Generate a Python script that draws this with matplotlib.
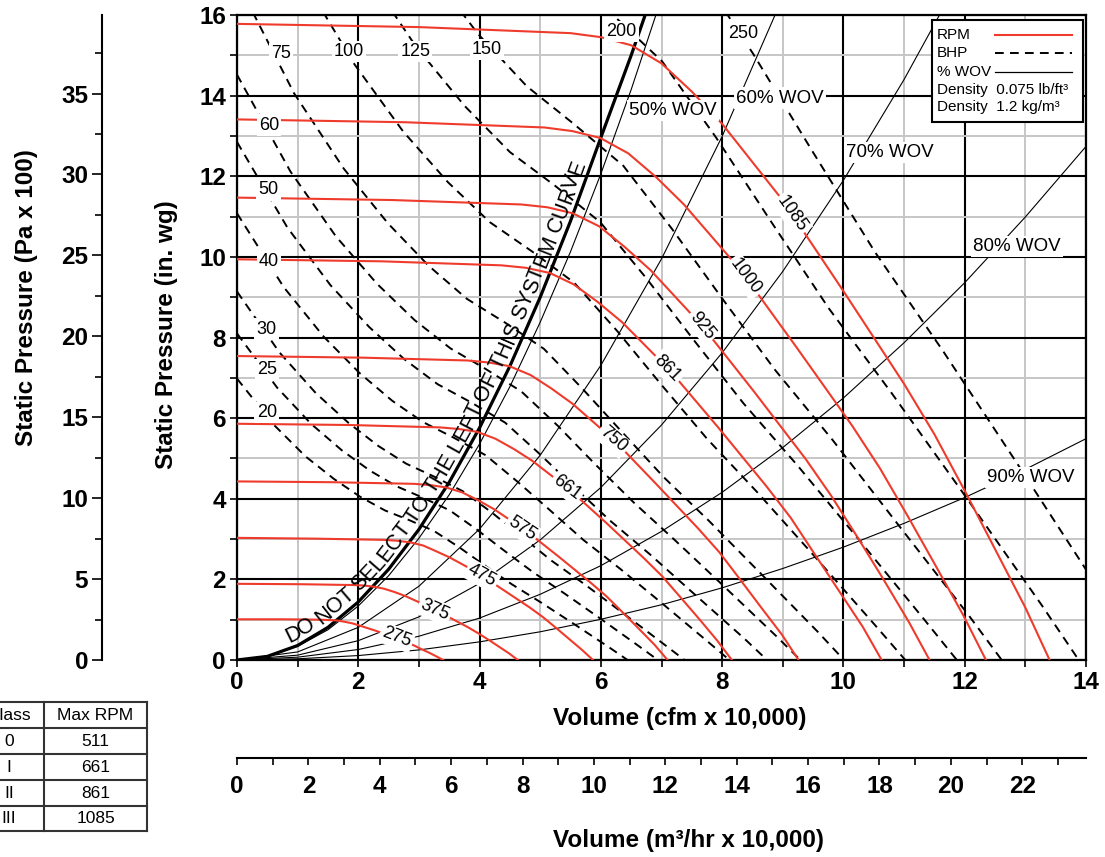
import numpy as np
import matplotlib
matplotlib.use("Agg")
import matplotlib.pyplot as plt
from matplotlib.lines import Line2D
from matplotlib.patches import Rectangle
from matplotlib.font_manager import FontProperties

plt.rcParams['font.family'] = ['Liberation Sans', 'DejaVu Sans']

# --- fan curves: volume (cfm x 10,000) vs static pressure (in. wg) ---
rpm_speeds = [275, 375, 475, 575, 661, 750, 861, 925, 1000, 1085]
q_275 = [0, 0.76, 1.39, 1.52, 1.65, 1.77, 1.90, 2.03, 2.28, 2.54, 2.79, 2.92, 3.04, 3.17, 3.30, 3.40]
p_275 = [1.01, 1.01, 1.00, 0.99, 0.98, 0.95, 0.91, 0.85, 0.73, 0.59, 0.44, 0.36, 0.27, 0.18, 0.08, 0]
q_375 = [0, 1.04, 1.90, 2.07, 2.25, 2.42, 2.59, 2.77, 3.11, 3.46, 3.80, 3.97, 4.15, 4.32, 4.49, 4.63]
p_375 = [1.89, 1.88, 1.86, 1.85, 1.82, 1.77, 1.69, 1.59, 1.36, 1.09, 0.82, 0.67, 0.50, 0.33, 0.16, 0]
q_475 = [0, 1.31, 2.41, 2.63, 2.85, 3.07, 3.28, 3.50, 3.94, 4.38, 4.82, 5.04, 5.25, 5.47, 5.69, 5.87]
p_475 = [3.03, 3.01, 2.98, 2.96, 2.92, 2.84, 2.70, 2.55, 2.19, 1.75, 1.31, 1.07, 0.81, 0.53, 0.25, 0]
q_575 = [0, 1.59, 2.92, 3.18, 3.45, 3.71, 3.98, 4.24, 4.77, 5.30, 5.83, 6.10, 6.36, 6.63, 6.89, 7.10]
p_575 = [4.43, 4.41, 4.37, 4.34, 4.28, 4.16, 3.96, 3.74, 3.20, 2.57, 1.92, 1.57, 1.18, 0.77, 0.37, 0]
q_661 = [0, 1.83, 3.35, 3.66, 3.96, 4.26, 4.57, 4.87, 5.48, 6.09, 6.70, 7.01, 7.31, 7.62, 7.92, 8.16]
p_661 = [5.86, 5.83, 5.77, 5.73, 5.66, 5.49, 5.23, 4.94, 4.23, 3.40, 2.54, 2.08, 1.56, 1.02, 0.48, 0]
q_750 = [0, 2.07, 3.80, 4.15, 4.49, 4.84, 5.18, 5.53, 6.22, 6.91, 7.60, 7.95, 8.29, 8.64, 8.99, 9.26]
p_750 = [7.54, 7.50, 7.43, 7.38, 7.29, 7.07, 6.74, 6.36, 5.45, 4.37, 3.27, 2.68, 2.01, 1.31, 0.62, 0]
q_861 = [0, 2.38, 4.36, 4.76, 5.16, 5.55, 5.95, 6.35, 7.14, 7.94, 8.73, 9.13, 9.52, 9.92, 10.32, 10.63]
p_861 = [9.94, 9.89, 9.79, 9.73, 9.60, 9.32, 8.88, 8.38, 7.18, 5.76, 4.31, 3.53, 2.64, 1.73, 0.82, 0]
q_925 = [0, 2.56, 4.69, 5.12, 5.54, 5.97, 6.39, 6.82, 7.67, 8.53, 9.38, 9.80, 10.23, 10.66, 11.08, 11.42]
p_925 = [11.47, 11.41, 11.30, 11.23, 11.08, 10.76, 10.25, 9.67, 8.29, 6.65, 4.98, 4.07, 3.05, 2.00, 0.94, 0]
q_1000 = [0, 2.77, 5.07, 5.53, 5.99, 6.45, 6.91, 7.37, 8.30, 9.22, 10.14, 10.60, 11.06, 11.52, 11.98, 12.35]
p_1000 = [13.41, 13.34, 13.21, 13.12, 12.95, 12.57, 11.98, 11.30, 9.68, 7.77, 5.82, 4.76, 3.57, 2.34, 1.10, 0]
q_1085 = [0, 3, 5.5, 6, 6.5, 7, 7.5, 8, 9, 10, 11, 11.5, 12, 12.5, 13, 13.4]
p_1085 = [15.78, 15.70, 15.55, 15.45, 15.25, 14.80, 14.10, 13.30, 11.40, 9.15, 6.85, 5.60, 4.20, 2.75, 1.30, 0]
rpm_label_x = [2.63, 3.26, 4.04, 4.70, 5.44, 6.20, 7.10, 7.67, 8.38, 9.15]
rpm_label_y = [0.56, 1.24, 2.09, 3.26, 4.28, 5.46, 7.24, 8.29, 9.51, 11.06]
rpm_label_rot = [-21, -24, -29, -34, -37, -41, -45, -51, -53, -55]

# --- BHP lines ---
bhp_values = [20, 25, 30, 40, 50, 60, 75, 100, 125, 150, 200, 250]
bhp_20_q = [0, 0.61, 1.13, 1.60, 2.03, 2.44, 2.84, 3.25, 3.67, 4.08, 4.53, 5.02, 5.55, 6.16, 6.44]
bhp_20_p = [6.98, 5.83, 5.05, 4.49, 4.05, 3.71, 3.47, 3.20, 2.79, 2.35, 1.88, 1.42, 0.90, 0.29, 0]
bhp_25_q = [0, 0.66, 1.22, 1.73, 2.19, 2.63, 3.06, 3.51, 3.95, 4.40, 4.88, 5.40, 5.98, 6.63, 6.94]
bhp_25_p = [8.10, 6.76, 5.86, 5.20, 4.70, 4.31, 4.03, 3.71, 3.24, 2.72, 2.18, 1.65, 1.04, 0.34, 0]
bhp_30_q = [0, 0.70, 1.30, 1.84, 2.33, 2.79, 3.25, 3.72, 4.20, 4.68, 5.19, 5.74, 6.35, 7.05, 7.38]
bhp_30_p = [9.14, 7.63, 6.62, 5.88, 5.31, 4.87, 4.55, 4.19, 3.66, 3.08, 2.46, 1.87, 1.18, 0.38, 0]
bhp_40_q = [0, 0.77, 1.43, 2.02, 2.56, 3.07, 3.58, 4.10, 4.62, 5.15, 5.71, 6.32, 6.99, 7.76, 8.12]
bhp_40_p = [11.08, 9.25, 8.02, 7.12, 6.43, 5.90, 5.51, 5.08, 4.43, 3.73, 2.98, 2.26, 1.43, 0.46, 0]
bhp_50_q = [0, 0.83, 1.54, 2.18, 2.76, 3.31, 3.86, 4.42, 4.97, 5.54, 6.15, 6.81, 7.53, 8.36, 8.74]
bhp_50_p = [12.85, 10.73, 9.30, 8.26, 7.46, 6.84, 6.39, 5.89, 5.14, 4.32, 3.46, 2.62, 1.65, 0.54, 0]
bhp_60_q = [0, 0.88, 1.63, 2.31, 2.93, 3.52, 4.10, 4.69, 5.29, 5.89, 6.54, 7.23, 8.00, 8.88, 9.29]
bhp_60_p = [14.52, 12.12, 10.51, 9.33, 8.43, 7.73, 7.22, 6.66, 5.81, 4.88, 3.91, 2.96, 1.87, 0.61, 0]
bhp_75_q = [0, 0.94, 1.76, 2.49, 3.16, 3.79, 4.42, 5.06, 5.69, 6.34, 7.04, 7.79, 8.62, 9.57, 10.01]
bhp_75_p = [16.84, 14.06, 12.19, 10.83, 9.78, 8.96, 8.37, 7.72, 6.74, 5.67, 4.53, 3.44, 2.17, 0.71, 0]
bhp_100_q = [0, 1.04, 1.94, 2.74, 3.48, 4.17, 4.86, 5.56, 6.27, 6.98, 7.75, 8.58, 9.49, 10.53, 11.02]
bhp_100_p = [20.40, 17.03, 14.77, 13.11, 11.85, 10.86, 10.14, 9.36, 8.16, 6.86, 5.49, 4.16, 2.63, 0.85, 0]
bhp_125_q = [1.12, 2.09, 2.95, 3.75, 4.50, 5.24, 5.99, 6.75, 7.52, 8.35, 9.24, 10.22, 11.34, 11.87]
bhp_125_p = [19.76, 17.14, 15.22, 13.75, 12.60, 11.77, 10.86, 9.47, 7.96, 6.37, 4.83, 3.05, 0.99, 0]
bhp_150_q = [2.22, 3.14, 3.98, 4.78, 5.56, 6.37, 7.17, 7.99, 8.87, 9.82, 10.86, 12.06, 12.61]
bhp_150_p = [19.35, 17.18, 15.52, 14.23, 13.29, 12.26, 10.70, 8.99, 7.20, 5.46, 3.44, 1.12, 0]
bhp_200_q = [4.38, 5.26, 6.13, 7.01, 7.90, 8.80, 9.76, 10.80, 11.96, 13.27, 13.88]
bhp_200_p = [18.80, 17.24, 16.10, 14.85, 12.96, 10.89, 8.72, 6.61, 4.17, 1.36, 0]
bhp_250_q = [5.66, 6.60, 7.55, 8.51, 9.48, 10.52, 11.64, 12.88, 14.29]
bhp_250_p = [20.00, 18.68, 17.24, 15.04, 12.64, 10.12, 7.67, 4.84, 1.57]
bhp_label_x = [0.49, 0.50, 0.49, 0.53, 0.52, 0.53, 0.72, 1.85, 2.94, 4.12, 6.34, 8.35]
bhp_label_y = [6.14, 7.20, 8.21, 9.88, 11.66, 13.27, 15.05, 15.09, 15.09, 15.15, 15.59, 15.53]

# --- % wide open volume lines and system curve ---
system_q = [0, 0.5, 1, 1.5, 2, 2.5, 3, 3.5, 4, 4.5, 5, 5.5, 6, 6.5, 6.8]
system_p = [0, 0.09, 0.36, 0.81, 1.44, 2.25, 3.24, 4.41, 5.76, 7.29, 9.00, 10.89, 12.96, 15.00, 16.30]
wov50_q = [0, 0.5, 1, 1.5, 2, 2.5, 3, 3.5, 4, 4.5, 5, 5.5, 6, 6.5, 7]
wov50_p = [0, 0.08, 0.34, 0.75, 1.34, 2.09, 3.02, 4.10, 5.36, 6.78, 8.38, 10.13, 12.06, 14.15, 16.42]
wov60_q = [0, 1, 2, 3, 4, 5, 6, 7, 8, 9]
wov60_p = [0, 0.20, 0.81, 1.83, 3.25, 5.08, 7.31, 9.95, 12.99, 16.44]
wov70_q = [0, 1, 2, 3, 4, 5, 6, 7, 8, 9, 10, 11, 12]
wov70_p = [0, 0.12, 0.48, 1.07, 1.90, 2.98, 4.28, 5.83, 7.62, 9.64, 11.90, 14.40, 17.14]
wov80_q = [0, 1, 2, 3, 4, 5, 6, 7, 8, 9, 10, 11, 12, 13, 14]
wov80_p = [0, 0.07, 0.26, 0.59, 1.04, 1.63, 2.34, 3.19, 4.16, 5.27, 6.50, 7.87, 9.36, 10.99, 12.74]
wov90_q = [0, 1, 2, 3, 4, 5, 6, 7, 8, 9, 10, 11, 12, 13, 14]
wov90_p = [0, 0.03, 0.11, 0.25, 0.45, 0.70, 1.01, 1.37, 1.79, 2.27, 2.80, 3.39, 4.03, 4.73, 5.49]
wov_names = ['50% WOV', '60% WOV', '70% WOV', '80% WOV', '90% WOV']
wov_label_x = [7.19, 8.95, 10.77, 12.86, 13.09]
wov_label_y = [13.64, 13.94, 12.58, 10.25, 4.52]

# --- class table ---
class_names = ['0', 'I', 'II', 'III']
class_max_rpm = ['511', '661', '861', '1085']

PA100_PER_INWG = 2.4909
M3H_PER_CFM = 1.699

RED = '#ef3b2c'
W, H = 1105, 857
AX_L, AX_R, AX_T, AX_B = 237, 1086, 15, 660


def fx(px):
    return px / W


def fy(py):
    return 1 - py / H


def axf(px, py):
    return (px - AX_L) / (AX_R - AX_L), (AX_B - py) / (AX_B - AX_T)


fig = plt.figure(figsize=(W / 100, H / 100), dpi=100)
ax = fig.add_axes([fx(AX_L), fy(AX_B), (AX_R - AX_L) / W, (AX_B - AX_T) / H])
ax.set_xlim(0, 14)
ax.set_ylim(0, 16)
ax.set_xticks(range(0, 15, 2))
ax.set_xticks(range(1, 14, 2), minor=True)
ax.set_yticks(range(0, 17, 2))
ax.set_yticks(range(1, 16, 2), minor=True)
ax.set_axisbelow(True)
ax.grid(which='minor', color='#c6c6c6', lw=1.4)
ax.grid(which='major', color='black', lw=1.5)
ax.tick_params(which='both', direction='out', length=5, width=1.2, labelsize=17.5, pad=3)
plt.setp(ax.get_xticklabels() + ax.get_yticklabels(), fontweight='bold')
for s in ax.spines.values():
    s.set_linewidth(1.6)

# wov lines + system curve
wov_lines = [(wov50_q, wov50_p), (wov60_q, wov60_p), (wov70_q, wov70_p),
             (wov80_q, wov80_p), (wov90_q, wov90_p)]
for q, p in wov_lines:
    ax.plot(q, p, color='black', lw=0.8, zorder=2)
ax.plot(system_q, system_p, color='black', lw=2.3, zorder=3)

# bhp
bhp_lines = [(bhp_20_q, bhp_20_p), (bhp_25_q, bhp_25_p), (bhp_30_q, bhp_30_p),
             (bhp_40_q, bhp_40_p), (bhp_50_q, bhp_50_p), (bhp_60_q, bhp_60_p),
             (bhp_75_q, bhp_75_p), (bhp_100_q, bhp_100_p), (bhp_125_q, bhp_125_p),
             (bhp_150_q, bhp_150_p), (bhp_200_q, bhp_200_p), (bhp_250_q, bhp_250_p)]
for q, p in bhp_lines:
    ax.plot(q, p, color='black', lw=1.4, dashes=(4.5, 3.2), zorder=3)

# rpm
rpm_lines = [(q_275, p_275), (q_375, p_375), (q_475, p_475), (q_575, p_575),
             (q_661, p_661), (q_750, p_750), (q_861, p_861), (q_925, p_925),
             (q_1000, p_1000), (q_1085, p_1085)]
for q, p in rpm_lines:
    ax.plot(q, p, color=RED, lw=1.5, zorder=4)

box = dict(facecolor='white', edgecolor='none', pad=1.5)
for n, x, y, r in zip(rpm_speeds, rpm_label_x, rpm_label_y, rpm_label_rot):
    ax.text(x, y, str(n), rotation=r, rotation_mode='anchor', ha='center', va='center',
            fontsize=13, bbox=box, zorder=6)
for b, x, y in zip(bhp_values, bhp_label_x, bhp_label_y):
    ax.text(x, y, str(b), ha='center', va='center', fontsize=13, bbox=box, zorder=6)
for t, x, y in zip(wov_names, wov_label_x, wov_label_y):
    ax.text(x, y, t, ha='center', va='center', fontsize=13.5, bbox=box, zorder=6)


def text_along(xs, ys, text, start, offset, size):
    renderer = fig.canvas.get_renderer()
    fp = FontProperties(family='Liberation Sans', size=size)
    pts = ax.transData.transform(np.column_stack([xs, ys]))
    arc = np.concatenate([[0], np.cumsum(np.hypot(*np.diff(pts, axis=0).T))])
    ref = renderer.get_text_width_height_descent('I', fp, ismath=False)[0]
    inv = ax.transData.inverted()
    prev = 0.0
    for i, ch in enumerate(text):
        end = renderer.get_text_width_height_descent(text[:i + 1] + 'I', fp, ismath=False)[0] - ref
        mid = start + (prev + end) / 2
        prev = end
        if ch == ' ':
            continue
        p0 = np.array([np.interp(mid - 6, arc, pts[:, 0]), np.interp(mid - 6, arc, pts[:, 1])])
        p1 = np.array([np.interp(mid + 6, arc, pts[:, 0]), np.interp(mid + 6, arc, pts[:, 1])])
        d = (p1 - p0) / np.hypot(*(p1 - p0))
        c = np.array([np.interp(mid, arc, pts[:, 0]), np.interp(mid, arc, pts[:, 1])])
        c = c + offset * np.array([-d[1], d[0]])
        x, y = inv.transform(c)
        ax.text(x, y, ch, fontproperties=fp, rotation=np.degrees(np.arctan2(d[1], d[0])),
                rotation_mode='anchor', ha='center', va='baseline', zorder=7)


text_along(system_q, system_p, 'DO NOT SELECT TO THE LEFT OF THIS SYSTEM CURVE', 56, 6, 15.5)

# legend
lx0, ly0 = axf(932, 122)
lx1, ly1 = axf(1083, 20)
ax.add_patch(Rectangle((lx0, ly0), lx1 - lx0, ly1 - ly0, transform=ax.transAxes,
                       facecolor='white', edgecolor='black', lw=1.5, zorder=10))
legend_rows = [('RPM', 35), ('BHP', 53), ('% WOV', 72),
               ('Density  0.075 lb/ft³', 90), ('Density  1.2 kg/m³', 107)]
for t, py in legend_rows:
    tx, ty = axf(937, py)
    ax.text(tx, ty, t, transform=ax.transAxes, ha='left', va='center', fontsize=11, zorder=11)
hx0, _ = axf(995, 0)
hx1, _ = axf(1072, 0)
ax.plot([hx0, hx1], [axf(0, 35)[1]] * 2, transform=ax.transAxes, color=RED, lw=1.5, zorder=11)
ax.plot([hx0, hx1], [axf(0, 53)[1]] * 2, transform=ax.transAxes, color='black', lw=1.4,
        dashes=(4.5, 3.2), zorder=11)
ax.plot([hx0, hx1], [axf(0, 72)[1]] * 2, transform=ax.transAxes, color='black', lw=0.9, zorder=11)

# Pa axis on the far left
ax_pa = fig.add_axes([fx(102), fy(AX_B), 0.0005, (AX_B - AX_T) / H])
ax_pa.set_ylim(0, 16 * PA100_PER_INWG)
for s in ['top', 'right', 'bottom']:
    ax_pa.spines[s].set_visible(False)
ax_pa.spines['left'].set_linewidth(1.5)
ax_pa.patch.set_visible(False)
ax_pa.set_xticks([])
ax_pa.set_yticks(range(0, 40, 5))
ax_pa.set_yticks(np.arange(2.5, 40, 5), minor=True)
ax_pa.tick_params(which='major', length=7, width=1.2, labelsize=17.5, pad=3)
ax_pa.tick_params(which='minor', length=5, width=1.2)
plt.setp(ax_pa.get_yticklabels(), fontweight='bold')

# m3/hr axis at bottom
ax_m3 = fig.add_axes([fx(AX_L), fy(758), (AX_R - AX_L) / W, 0.0005])
ax_m3.set_xlim(0, 14 * M3H_PER_CFM)
for s in ['top', 'right', 'left']:
    ax_m3.spines[s].set_visible(False)
ax_m3.spines['bottom'].set_linewidth(1.5)
ax_m3.patch.set_visible(False)
ax_m3.set_yticks([])
ax_m3.set_xticks(range(0, 23, 2))
ax_m3.set_xticks(range(1, 24, 2), minor=True)
ax_m3.tick_params(which='both', direction='out', length=5, width=1.2, labelsize=17.5, pad=7)
plt.setp(ax_m3.get_xticklabels(), fontweight='bold')

lab = dict(fontsize=17.5, fontweight='bold')
fig.text(fx(553), fy(718), 'Volume (cfm x 10,000)', ha='left', va='center', **lab)
fig.text(fx(553), fy(840), 'Volume (m³/hr x 10,000)', ha='left', va='center', **lab)
fig.text(fx(167), fy(335), 'Static Pressure (in. wg)', rotation=90, ha='center', va='center', **lab)
fig.text(fx(27), fy(298), 'Static Pressure (Pa x 100)', rotation=90, ha='center', va='center', **lab)

# class table (cut by the left edge, as in the source sheet)
col_x = [-22, 44, 147]
row_y = [702, 728, 754, 780, 806, 831]
for py in row_y:
    fig.add_artist(Line2D([fx(col_x[0]), fx(col_x[-1])], [fy(py), fy(py)],
                          transform=fig.transFigure, color='#333333', lw=1.5))
for px in col_x:
    fig.add_artist(Line2D([fx(px), fx(px)], [fy(row_y[0]), fy(row_y[-1])],
                          transform=fig.transFigure, color='#333333', lw=1.5))
cells = [('Class', 'Max RPM')] + list(zip(class_names, class_max_rpm))
for i, (a, b) in enumerate(cells):
    cy = fy((row_y[i] + row_y[i + 1]) / 2)
    fig.text(fx(9), cy, a, ha='center', va='center', fontsize=12.5)
    fig.text(fx(95.5), cy, b, ha='center', va='center', fontsize=12.5)

fig.savefig('out.png', dpi=100)
